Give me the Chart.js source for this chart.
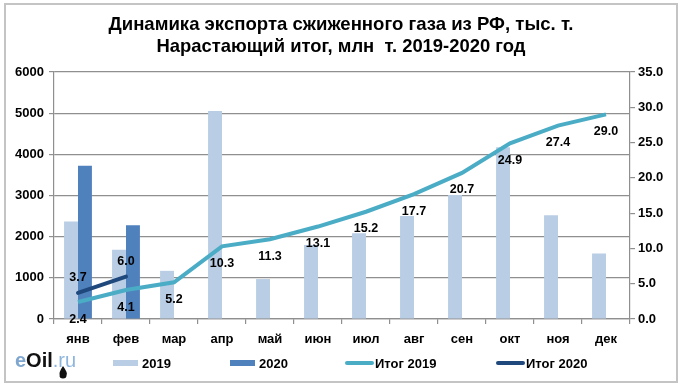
<!DOCTYPE html>
<html>
<head>
<meta charset="utf-8">
<script src="https://cdn.jsdelivr.net/npm/chart.js@4.4.1/dist/chart.umd.min.js"></script>
<style>
  html, body { margin: 0; padding: 0; background: #fff; }
  canvas { display: block; }
</style>
</head>
<body>
<canvas id="c-chart-lng" width="682" height="389"></canvas>
<script>
// данные: экспорт СПГ по месяцам (тыс. т) и нарастающий итог (млн т)
const months = ['янв', 'фев', 'мар', 'апр', 'май', 'июн', 'июл', 'авг', 'сен', 'окт', 'ноя', 'дек']
const export2019 = [2370, 1680, 1170, 5050, 970, 1800, 2080, 2500, 3010, 4170, 2520, 1590]
const export2020 = [3720, 2280]
const total2019 = [2.4, 4.1, 5.2, 10.3, 11.3, 13.1, 15.2, 17.7, 20.7, 24.9, 27.4, 29.0]
const total2020 = [3.7, 6.0]
const titleLines = ['Динамика экспорта сжиженного газа из РФ, тыс. т.', 'Нарастающий итог, млн  т. 2019-2020 год']

const FONT = '"Liberation Sans", Arial, sans-serif'
const gridColor = '#8f8f8f'

// рамка, заголовок, логотип и легенда рисуются вручную
const decorPlugin = {
  id: 'decor',
  beforeDraw(chart) {
    const ctx = chart.ctx
    ctx.save()
    ctx.fillStyle = '#fff'
    ctx.fillRect(0, 0, chart.width, chart.height)
    ctx.strokeStyle = '#c4c4c4'
    ctx.lineWidth = 2
    ctx.strokeRect(5, 4, 672, 378)
    ctx.restore()
  },
  afterDraw(chart) {
    const ctx = chart.ctx
    ctx.save()
    // заголовок (узкий шрифт имитируем сжатием по горизонтали)
    ctx.fillStyle = '#000'
    ctx.font = 'bold 19px ' + FONT
    ctx.textAlign = 'center'
    ctx.textBaseline = 'alphabetic'
    const widths = [465, 369]
    const bases = [30, 52]
    titleLines.forEach(function(line, i) {
      const w = ctx.measureText(line).width
      ctx.save()
      ctx.translate(341, bases[i])
      ctx.scale(widths[i] / w, 1)
      ctx.fillText(line, 0, 0)
      ctx.restore()
    })

    // логотип eOil.ru
    ctx.textAlign = 'left'
    ctx.font = 'bold 20px ' + FONT
    let x = 15
    const ly = 367
    ctx.fillStyle = '#7ea6cf'
    ctx.fillText('e', x, ly)
    x += ctx.measureText('e').width
    ctx.fillStyle = '#111'
    ctx.fillText('Oil', x, ly)
    x += ctx.measureText('Oil').width
    ctx.fillStyle = '#8db5dd'
    ctx.font = '20px ' + FONT
    ctx.fillText('.ru', x, ly)
    // капля под буквой l
    ctx.fillStyle = '#111'
    ctx.beginPath()
    ctx.moveTo(63, 366)
    ctx.quadraticCurveTo(58, 373, 60, 376)
    ctx.arc(63, 375, 3.6, Math.PI, 0, true)
    ctx.quadraticCurveTo(68, 373, 63, 366)
    ctx.fill()

    // легенда
    const ds = chart.data.datasets
    const items = [
      { i: 0, x: 113, type: 'box' },
      { i: 1, x: 230, type: 'box' },
      { i: 2, x: 345, type: 'line' },
      { i: 3, x: 496, type: 'line' }
    ]
    const cy = 363
    ctx.font = 'bold 13px ' + FONT
    ctx.textBaseline = 'middle'
    items.forEach(function(it) {
      const d = ds[it.i]
      if (it.type === 'box') {
        ctx.fillStyle = d.backgroundColor
        ctx.fillRect(it.x, cy - 3, 25, 6)
      } else {
        ctx.strokeStyle = d.borderColor
        ctx.lineWidth = 4
        ctx.lineCap = 'round'
        ctx.beginPath()
        ctx.moveTo(it.x + 2, cy)
        ctx.lineTo(it.x + 27, cy)
        ctx.stroke()
      }
      ctx.fillStyle = '#000'
      ctx.fillText(d.label, it.x + (it.type === 'box' ? 29 : 30), cy + 1)
    })
    ctx.restore()
  },
  // подписи значений нарастающего итога
  afterDatasetsDraw(chart) {
    const ctx = chart.ctx
    ctx.save()
    ctx.font = 'bold 12.5px ' + FONT
    ctx.fillStyle = '#000'
    ctx.textAlign = 'center'
    ctx.textBaseline = 'middle'
    chart.data.datasets.forEach(function(d, i) {
      if (d.type !== 'line') return
      const meta = chart.getDatasetMeta(i)
      const off = i === 2 ? 17 : -15
      meta.data.forEach(function(pt, j) {
        ctx.fillText(d.data[j].toFixed(1), pt.x, pt.y + off)
      })
    })
    ctx.restore()
  }
}

const config = {
  data: {
    labels: months,
    datasets: [
      {
        type: 'bar',
        label: '2019',
        data: export2019,
        backgroundColor: '#b9cde5',
        yAxisID: 'y',
        order: 1,
        barPercentage: 1,
        categoryPercentage: 0.58
      },
      {
        type: 'bar',
        label: '2020',
        data: export2020,
        backgroundColor: '#4f81bd',
        yAxisID: 'y',
        order: 1,
        barPercentage: 1,
        categoryPercentage: 0.58
      },
      {
        type: 'line',
        label: 'Итог 2019',
        data: total2019,
        borderColor: '#4bacc6',
        borderWidth: 4,
        pointRadius: 0,
        yAxisID: 'y1',
        order: 0
      },
      {
        type: 'line',
        label: 'Итог 2020',
        data: total2020,
        borderColor: '#1f497d',
        borderWidth: 4,
        pointRadius: 0,
        borderCapStyle: 'round',
        yAxisID: 'y1',
        order: 0
      }
    ]
  },
  options: {
    responsive: false,
    animation: false,
    layout: { padding: { top: 72, left: 0, right: 0, bottom: 0 } },
    plugins: {
      legend: { display: false },
      title: { display: false },
      tooltip: { enabled: false }
    },
    scales: {
      x: {
        grid: { offset: true, drawOnChartArea: false, tickLength: 5, color: gridColor, lineWidth: 1.2 },
        border: { color: gridColor, width: 1.2 },
        ticks: { color: '#000', font: { family: FONT, size: 13, weight: 'bold' }, padding: 8 },
        afterFit(scale) { scale.height = 70 }
      },
      y: {
        position: 'left',
        min: 0,
        max: 6000,
        ticks: {
          stepSize: 1000,
          color: '#000',
          font: { family: FONT, size: 13, weight: 'bold' },
          padding: 5,
          callback: function(v) { return String(v) }
        },
        grid: { color: gridColor, lineWidth: 1.2, tickLength: 5 },
        border: { color: gridColor, width: 1.2 },
        afterFit(scale) { scale.width = 54 }
      },
      y1: {
        position: 'right',
        min: 0,
        max: 35,
        ticks: {
          stepSize: 5,
          color: '#000',
          font: { family: FONT, size: 13, weight: 'bold' },
          padding: 3,
          callback: function(v) { return v.toFixed(1) }
        },
        grid: { drawOnChartArea: false, color: gridColor, lineWidth: 1.2, tickLength: 5 },
        border: { color: gridColor, width: 1.2 },
        afterFit(scale) { scale.width = 52 }
      }
    }
  },
  plugins: [decorPlugin]
}

const ctx = document.getElementById('c-chart-lng').getContext('2d')
new Chart(ctx, config)
</script>
</body>
</html>
